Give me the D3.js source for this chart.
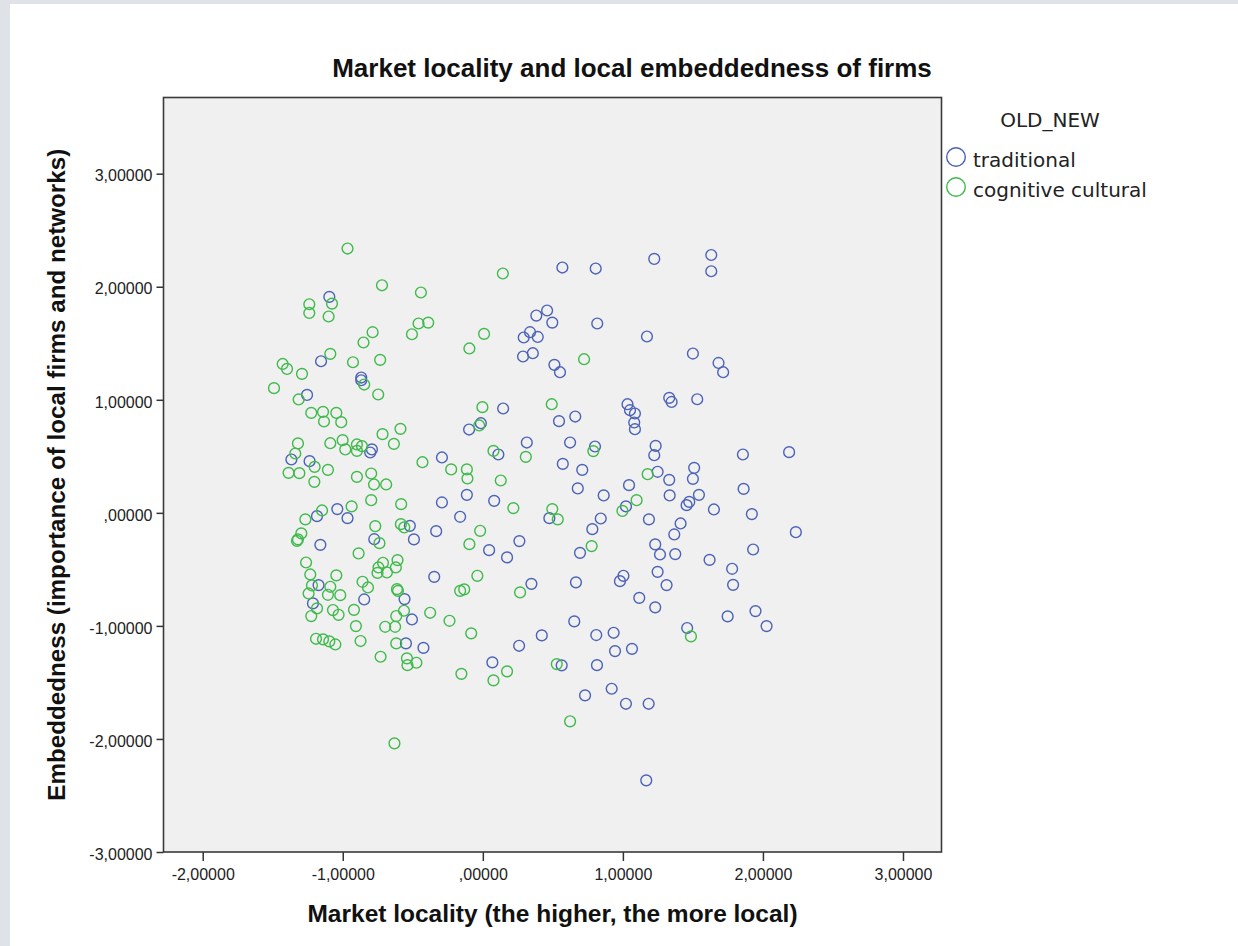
<!DOCTYPE html>
<html>
<head>
<meta charset="utf-8">
<script src="https://cdn.jsdelivr.net/npm/d3@7"></script>
<style>
    body { margin: 0; background: #dfe3e8; }
    #chart { position: absolute; left: 0; top: 0; }
    .tickText { font-family: "Liberation Sans", Arial, sans-serif; font-size: 16px; fill: #222; }
    .legendText { font-family: "DejaVu Sans", Tahoma, sans-serif; font-size: 20px; fill: #222; }
</style>
</head>
<body>
<div id="chart"></div>
<script>

// values: [market locality, embeddedness]
const traditional = [
    [-1.096,1.910],[-1.155,1.341],[-0.868,1.197],[-0.868,1.173],[-1.255,1.043],[-1.367,0.472],[-1.237,0.457],
    [-0.792,0.561],[-0.804,0.534],[-0.292,0.490],[-0.292,0.092],[-1.039,0.033],[-1.184,-0.029],[-0.966,-0.047],
    [-0.521,-0.115],[-1.160,-0.283],[-0.775,-0.233],[-0.492,-0.235],[-0.333,-0.162],[-1.173,-0.639],[-0.847,-0.766],
    [-0.347,-0.566],[-0.559,-0.763],[-1.213,-0.801],[-0.506,-0.943],[-0.549,-1.155],[-0.424,-1.194],
    [0.568,2.170],[0.806,2.161],[0.382,1.745],[0.459,1.790],[0.496,1.683],[0.817,1.675],[0.337,1.598],
    [0.292,1.551],[0.392,1.556],[0.287,1.383],[0.357,1.412],[0.511,1.309],[0.551,1.244],[0.145,0.923],
    [0.544,0.811],[0.660,0.852],[1.033,0.961],[-0.098,0.737],[-0.014,0.793],[0.314,0.622],[0.623,0.622],
    [0.111,0.516],[0.801,0.587],[0.571,0.433],[0.710,0.380],[0.678,0.216],[0.863,0.154],[1.044,0.245],
    [-0.114,0.159],[0.081,0.106],[-0.162,-0.035],[0.475,-0.047],[0.842,-0.050],[1.022,0.057],
    [0.782,-0.144],[0.045,-0.330],[0.261,-0.250],[0.173,-0.394],[0.694,-0.354],[0.347,-0.628],[0.665,-0.615],
    [0.979,-0.604],[1.004,-0.557],[0.259,-1.176],[0.421,-1.084],[0.653,-0.960],[0.810,-1.081],[0.934,-1.061],
    [0.944,-1.223],[1.065,-1.203],[0.068,-1.323],[0.563,-1.349],[0.815,-1.347],[0.730,-1.615],[0.920,-1.556],
    [1.022,-1.689],
    [1.224,2.246],[1.631,2.281],[1.631,2.137],[1.172,1.560],[1.500,1.409],[1.683,1.326],[1.716,1.244],
    [1.331,1.017],[1.348,0.981],[1.531,1.005],[1.051,0.908],[1.086,0.879],[1.081,0.799],[1.086,0.740],
    [1.234,0.592],[1.224,0.510],[1.857,0.516],[2.187,0.537],[1.248,0.363],[1.331,0.292],[1.509,0.398],
    [1.500,0.301],[1.334,0.154],[1.543,0.159],[1.474,0.097],[1.455,0.068],[1.862,0.212],[1.650,0.030],
    [1.921,-0.011],[1.186,-0.058],[1.412,-0.094],
    [1.367,-0.191],[1.231,-0.279],[1.265,-0.368],[1.374,-0.365],[1.619,-0.416],[1.780,-0.495],[1.787,-0.637],
    [1.930,-0.324],[2.235,-0.171],[1.248,-0.522],[1.312,-0.639],[1.117,-0.752],[1.231,-0.836],[1.748,-0.916],
    [1.947,-0.869],[2.026,-1.002],[1.459,-1.019],[1.184,-1.689],[1.167,-2.366]
];

const cognitiveCultural = [
    [-0.966,2.338],[-0.720,2.013],[-0.442,1.949],[-1.077,1.851],[-1.239,1.845],[-1.239,1.768],[-1.101,1.737],
    [-0.787,1.598],[-0.852,1.507],[-0.459,1.675],[-0.390,1.683],[-0.506,1.580],[-1.089,1.406],[-0.927,1.332],
    [-0.733,1.353],[-1.429,1.317],[-1.398,1.273],[-1.291,1.229],[-0.847,1.135],[-0.747,1.047],[-1.491,1.103],
    [-1.315,1.003],[-1.225,0.884],[-1.141,0.893],[-1.134,0.808],[-1.046,0.884],[-1.011,0.802],[-0.588,0.743],
    [-0.716,0.696],[-0.635,0.610],[-1.320,0.614],[-1.339,0.525],[-1.201,0.407],[-1.089,0.616],[-1.001,0.643],
    [-0.982,0.561],[-0.899,0.605],[-0.863,0.590],[-0.899,0.548],[-1.387,0.354],[-1.310,0.351],[-1.106,0.380],
    [-1.203,0.274],[-0.899,0.318],[-0.797,0.348],[-0.777,0.251],[-0.690,0.251],[-0.431,0.448],[-0.797,0.112],
    [-0.583,0.077],[-0.937,0.057],[-1.148,0.021],[-1.267,-0.058],[-0.768,-0.118],[-0.585,-0.100],[-0.561,-0.129],
    [-1.296,-0.182],[-1.320,-0.235],[-1.327,-0.248],[-0.738,-0.268],[-0.887,-0.359],[-1.262,-0.439],[-1.232,-0.545],
    [-1.046,-0.553],[-1.220,-0.642],[-1.089,-0.654],[-1.244,-0.713],[-1.106,-0.725],[-1.018,-0.728],[-0.859,-0.610],
    [-0.820,-0.660],[-0.713,-0.442],[-0.745,-0.483],[-0.752,-0.531],[-0.685,-0.527],[-0.621,-0.483],[-0.609,-0.418],
    [-0.613,-0.675],[-0.606,-0.690],[-1.184,-0.845],[-1.225,-0.913],[-1.070,-0.860],[-1.030,-0.902],[-0.920,-0.858],
    [-0.563,-0.866],[-0.618,-0.913],[-0.376,-0.884],[-0.906,-1.002],[-0.697,-1.008],[-0.626,-1.008],[-1.191,-1.114],
    [-1.141,-1.119],[-1.096,-1.137],[-1.053,-1.164],[-0.873,-1.134],[-0.618,-1.155],[-0.730,-1.273],[-0.542,-1.287],
    [-0.538,-1.347],[-0.474,-1.326],[-0.631,-2.039],
    [0.143,2.117],[0.009,1.583],[-0.096,1.454],[0.723,1.359],[-0.003,0.935],[0.492,0.961],[-0.026,0.773],
    [0.076,0.548],[0.307,0.495],[0.789,0.546],[-0.226,0.384],[-0.114,0.384],[-0.110,0.304],[0.128,0.286],
    [0.218,0.042],[0.496,0.033],[0.535,-0.058],[0.997,0.017],
    [-0.019,-0.159],[-0.096,-0.277],[0.777,-0.294],[-0.039,-0.557],[-0.162,-0.690],[-0.133,-0.677],[0.266,-0.704],
    [-0.238,-0.955],[-0.083,-1.066],[0.173,-1.402],[0.076,-1.482],[-0.153,-1.424],[0.528,-1.338],[0.623,-1.844],
    [1.177,0.342],[1.098,0.112],[1.486,-1.093]
];

const groupNames = ["traditional", "cognitive cultural"];
const groupColors = ["#4b62b7", "#3fba4b"];
const xTicks = [-2, -1, 0, 1, 2, 3];
const yTicks = [-3, -2, -1, 0, 1, 2, 3];

// SPSS style: comma decimal, plain hyphen, no leading zero
function spssFormat(d) {
    let s = d.toFixed(5).replace(".", ",");
    return d === 0 ? s.substring(1) : s;
}

class ScatterVis {

    constructor(parentElement) {
        this.parentElement = parentElement;
        this.initVis();
    }

    initVis() {
        let vis = this;

        vis.plot = {left: 163.5, top: 97.5, right: 941.5, bottom: 852};
        vis.width = vis.plot.right - vis.plot.left;
        vis.height = vis.plot.bottom - vis.plot.top;

        vis.svg = d3.select("#" + vis.parentElement).append("svg")
            .attr("width", 1238)
            .attr("height", 946);

        // white panel on the grey page
        vis.svg.append("rect")
            .attr("x", 10).attr("y", 4)
            .attr("width", 1228).attr("height", 942)
            .attr("fill", "#ffffff");

        vis.g = vis.svg.append("g")
            .attr("transform", "translate(" + vis.plot.left + "," + vis.plot.top + ")");

        vis.x = d3.scaleLinear().domain([-2.28, 3.275]).range([0, vis.width]);
        vis.y = d3.scaleLinear().domain([-3, 3.674]).range([vis.height, 0]);

        vis.g.append("rect")
            .attr("width", vis.width).attr("height", vis.height)
            .attr("fill", "#f0f0f0");

        vis.xAxis = d3.axisBottom(vis.x).tickValues(xTicks).tickFormat(spssFormat)
            .tickSize(9).tickSizeOuter(0).tickPadding(5);
        vis.yAxis = d3.axisLeft(vis.y).tickValues(yTicks).tickFormat(spssFormat)
            .tickSize(7).tickSizeOuter(0).tickPadding(4);

        vis.wrangleData();
    }

    wrangleData() {
        let vis = this;
        vis.series = [traditional, cognitiveCultural];
        vis.updateVis();
    }

    updateVis() {
        let vis = this;

        vis.g.selectAll(".series")
            .data(vis.series)
            .enter().append("g")
            .attr("class", "series")
            .attr("stroke", (d, i) => groupColors[i])
            .selectAll("circle")
            .data(d => d)
            .enter().append("circle")
            .attr("cx", d => vis.x(d[0]))
            .attr("cy", d => vis.y(d[1]))
            .attr("r", 5.4)
            .attr("fill", "none")
            .attr("stroke-width", 1.4);

        let xg = vis.g.append("g")
            .attr("transform", "translate(0," + vis.height + ")")
            .call(vis.xAxis);
        let yg = vis.g.append("g").call(vis.yAxis);

        [xg, yg].forEach(a => {
            a.select(".domain").remove();
            a.selectAll("line").attr("stroke", "#333").attr("stroke-width", 1.5);
            a.selectAll("text").attr("class", "tickText").attr("fill", null)
                .attr("font-size", null).attr("font-family", null);
        });
        yg.selectAll("text").attr("dy", "0.45em");
        xg.selectAll("text").attr("dy", "0.9em");

        // frame
        vis.g.append("rect")
            .attr("width", vis.width).attr("height", vis.height)
            .attr("fill", "none").attr("stroke", "#3a3a3a").attr("stroke-width", 1.6);

        // titles
        vis.svg.append("text")
            .text("Market locality and local embeddedness of firms")
            .attr("x", 632).attr("y", 77)
            .attr("text-anchor", "middle")
            .attr("font-family", "'Liberation Sans', Arial, sans-serif")
            .attr("font-weight", "bold").attr("font-size", 26).attr("fill", "#111");

        vis.svg.append("text")
            .text("Market locality (the higher, the more local)")
            .attr("x", vis.plot.left + vis.width / 2).attr("y", 922)
            .attr("text-anchor", "middle")
            .attr("font-family", "'Liberation Sans', Arial, sans-serif")
            .attr("font-weight", "bold").attr("font-size", 24.5).attr("fill", "#111");

        vis.svg.append("text")
            .text("Embeddedness (importance of local firms and networks)")
            .attr("transform", "translate(65," + (vis.plot.top + vis.height / 2) + ") rotate(-90)")
            .attr("text-anchor", "middle")
            .attr("font-family", "'Liberation Sans', Arial, sans-serif")
            .attr("font-weight", "bold").attr("font-size", 24.2).attr("fill", "#111");

        // legend
        vis.svg.append("text").text("OLD_NEW")
            .attr("class", "legendText")
            .attr("x", 1050).attr("y", 127)
            .attr("text-anchor", "middle");

        let legend = vis.svg.selectAll(".legendItem")
            .data(groupNames)
            .enter().append("g")
            .attr("class", "legendItem")
            .attr("transform", (d, i) => "translate(956," + (157 + i * 30) + ")");

        legend.append("circle")
            .attr("r", 9.3)
            .attr("fill", "none")
            .attr("stroke", (d, i) => groupColors[i])
            .attr("stroke-width", 1.4);

        legend.append("text").text(d => d)
            .attr("class", "legendText")
            .attr("x", 17).attr("y", 9.5);
    }
}

new ScatterVis("chart");
</script>
</body>
</html>
